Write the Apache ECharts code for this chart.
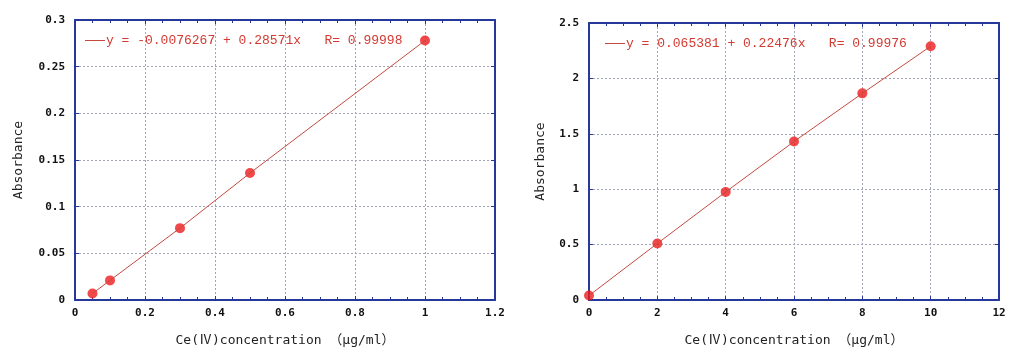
<!DOCTYPE html>
<html><head><meta charset="utf-8">
<script src="https://cdn.jsdelivr.net/npm/echarts@6/dist/echarts.min.js"></script>
<style>html,body{margin:0;padding:0;background:#fff}#c{width:1024px;height:362px}</style>
</head><body><div id="c"></div>
<script>
// Left chart data
const leftX = [0.05, 0.1, 0.3, 0.5, 1.0];
const leftY = [0.007, 0.021, 0.077, 0.136, 0.278];
const leftLegend = 'y = -0.0076267 + 0.28571x   R= 0.99998';
const leftXTicks = {min: 0, max: 1.2, interval: 0.2};
const leftYTicks = {min: 0, max: 0.3, interval: 0.05};
// Right chart data
const rightX = [0, 2, 4, 6, 8, 10];
const rightY = [0.04, 0.51, 0.975, 1.43, 1.865, 2.29];
const rightLegend = 'y = 0.065381 + 0.22476x   R= 0.99976';
const rightXTicks = {min: 0, max: 12, interval: 2};
const rightYTicks = {min: 0, max: 2.5, interval: 0.5};
const xName = 'Ce(Ⅳ)concentration （μg/ml）';
const yName = 'Absorbance';

const frame = '#26399a';
const lineColor = '#c44a40';
const dotColor = '#ee1c1c';
const labelFont = {color: '#111', fontFamily: 'DejaVu Sans Mono', fontWeight: 'bold', fontSize: 11};
const nameFont = {color: '#222', fontFamily: 'DejaVu Sans Mono, Noto Sans CJK JP', fontSize: 13};
const split = {show: true, lineStyle: {color: '#a2a4b8', type: [2, 2], width: 1}};

function pairs(xs, ys) { return xs.map((x, i) => [x, ys[i]]); }

function xAxes(gi, t, gap) {
  return [
    {gridIndex: gi, type: 'value', min: t.min, max: t.max, interval: t.interval, position: 'bottom',
     name: xName, nameLocation: 'middle', nameGap: gap, nameTextStyle: nameFont,
     axisLine: {show: true, onZero: false, lineStyle: {color: frame, width: 2}},
     axisTick: {show: true, inside: true, length: 4, lineStyle: {color: frame}},
     minorTick: {show: true, splitNumber: 4, length: 3, lineStyle: {color: frame}},
     axisLabel: Object.assign({margin: 8}, labelFont), splitLine: split},
    {gridIndex: gi, type: 'value', min: t.min, max: t.max, interval: t.interval, position: 'top',
     axisLine: {show: true, onZero: false, lineStyle: {color: frame, width: 2}},
     axisTick: {show: true, inside: true, length: 4, lineStyle: {color: frame}},
     minorTick: {show: true, splitNumber: 4, length: 3, lineStyle: {color: frame}},
     axisLabel: {show: false}, splitLine: {show: false}}
  ];
}
function yAxes(gi, t, gap) {
  return [
    {gridIndex: gi, type: 'value', min: t.min, max: t.max, interval: t.interval, position: 'left',
     name: yName, nameLocation: 'middle', nameGap: gap, nameRotate: 90, nameTextStyle: nameFont,
     axisLine: {show: true, onZero: false, lineStyle: {color: frame, width: 2}},
     axisTick: {show: true, inside: true, length: 4, lineStyle: {color: frame}},
     axisLabel: Object.assign({margin: 10}, labelFont), splitLine: split},
    {gridIndex: gi, type: 'value', min: t.min, max: t.max, interval: t.interval, position: 'right',
     axisLine: {show: true, onZero: false, lineStyle: {color: frame, width: 2}},
     axisTick: {show: true, inside: true, length: 4, lineStyle: {color: frame}},
     axisLabel: {show: false}, splitLine: {show: false}}
  ];
}

const legendText = {color: '#d23a32', fontFamily: 'Liberation Mono', fontSize: 13, padding: [0, 0, 0, -4]};
const chart = echarts.init(document.getElementById('c'));
chart.setOption({
  animation: false,
  backgroundColor: '#fff',
  grid: [
    {left: 75, top: 20, width: 420, height: 280},
    {left: 589, top: 23, width: 410, height: 277}
  ],
  xAxis: [...xAxes(0, leftXTicks, 34), ...xAxes(1, rightXTicks, 34)],
  yAxis: [...yAxes(0, leftYTicks, 50), ...yAxes(1, rightYTicks, 42)],
  legend: [
    {data: [{name: leftLegend, icon: 'rect'}], left: 80, top: 29, itemWidth: 20, itemHeight: 1, itemGap: 0,
     textStyle: legendText},
    {data: [{name: rightLegend, icon: 'rect'}], left: 600, top: 32, itemWidth: 20, itemHeight: 1, itemGap: 0,
     textStyle: legendText}
  ],
  series: [
    {name: leftLegend, type: 'line', xAxisIndex: 0, yAxisIndex: 0, data: pairs(leftX, leftY),
     showSymbol: false, symbol: 'none', lineStyle: {color: lineColor, width: 1}, itemStyle: {color: lineColor}},
    {name: 'leftPts', type: 'scatter', xAxisIndex: 0, yAxisIndex: 0, data: pairs(leftX, leftY),
     symbolSize: 10, itemStyle: {color: dotColor}},
    {name: rightLegend, type: 'line', xAxisIndex: 2, yAxisIndex: 2, data: pairs(rightX, rightY),
     showSymbol: false, symbol: 'none', lineStyle: {color: lineColor, width: 1}, itemStyle: {color: lineColor}},
    {name: 'rightPts', type: 'scatter', xAxisIndex: 2, yAxisIndex: 2, data: pairs(rightX, rightY),
     symbolSize: 10, itemStyle: {color: dotColor}}
  ]
});
</script></body></html>
